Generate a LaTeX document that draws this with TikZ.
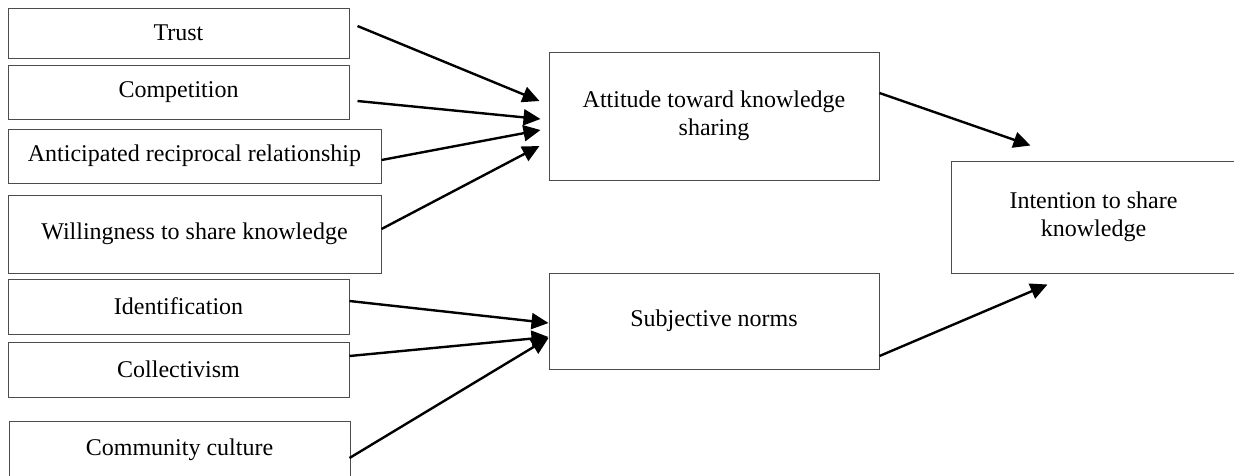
\documentclass[tikz,border=0pt]{standalone}
\usepackage{fontspec}
\setmainfont{Liberation Serif}
\usetikzlibrary{arrows.meta,calc}
\tikzset{
  box/.style={draw=black!70, line width=1pt, rectangle, inner sep=0pt, align=center,
    font=\fontsize{24}{28}\selectfont},
  arr/.style={line width=2.4pt, -{Triangle[length=17pt,width=16pt]}}
}
\begin{document}
\begin{tikzpicture}[x=1pt,y=-1pt]
\fill[white] (0,0) rectangle (1234,475);
\useasboundingbox (0,0) rectangle (1234,475);
\node[box, minimum width=341pt, minimum height=50pt] (trust) at (178.5,33) {Trust};
\node[box, minimum width=341pt, minimum height=54pt] (comp) at (178.5,92) {Competition};
\node[box, minimum width=373pt, minimum height=54pt] (antic) at (194.5,156) {Anticipated reciprocal relationship};
\node[box, minimum width=373pt, minimum height=78pt] (will) at (194.5,234) {Willingness to share knowledge};
\node[box, minimum width=341pt, minimum height=55pt] (ident) at (178.5,306.5) {Identification};
\node[box, minimum width=341pt, minimum height=55pt] (coll) at (178.5,369.5) {Collectivism};
\node[box, minimum width=341pt, minimum height=58pt] (comm) at (179.5,450) {Community culture};
\node[box, minimum width=330pt, minimum height=128pt] (att) at (714,116) {Attitude toward knowledge\\sharing};
\node[box, minimum width=330pt, minimum height=96pt] (subj) at (714,321) {Subjective norms};
\node[box, minimum width=285pt, minimum height=112pt] (int) at (1093.5,217) {Intention to share\\knowledge};

\draw[arr] ($(trust.east)+(8,-7)$) -- ($(att.west)+(-9,-15)$);
\draw[arr] ($(comp.east)+(8,9)$) -- ($(att.west)+(-8,3)$);
\draw[arr] ($(antic.east)+(0,4)$) -- ($(att.west)+(-8,14)$);
\draw[arr] ($(will.east)+(0,-5)$) -- ($(att.west)+(-9,30)$);
\draw[arr] ($(ident.east)+(0,-5.5)$) -- ($(subj.west)+(0,2)$);
\draw[arr] ($(coll.east)+(0,-13.5)$) -- ($(subj.west)+(0,16)$);
\draw[arr] ($(comm.east)+(-1,8)$) -- ($(subj.west)+(0,17)$);
\draw[arr] ($(att.east)+(0,-23)$) -- ($(int.north west)+(80,-15)$);
\draw[arr] ($(subj.east)+(0,35)$) -- ($(int.south west)+(97,11)$);
\end{tikzpicture}
\end{document}
